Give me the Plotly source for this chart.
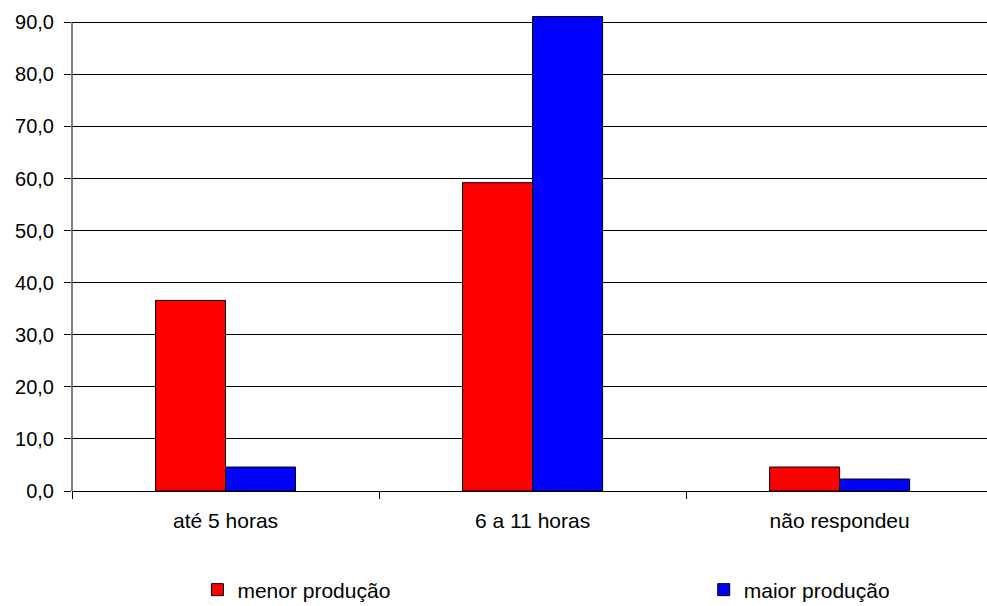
import plotly.graph_objects as go

categories = ["até 5 horas", "6 a 11 horas", "não respondeu"]
menor = [36.6, 59.2, 4.6]
maior = [4.6, 91.1, 2.3]
y_ticks = [0, 10, 20, 30, 40, 50, 60, 70, 80, 90]

fig = go.Figure()
fig.add_trace(go.Bar(name="menor produção", x=categories, y=menor,
                     marker=dict(color="#FF0000", line=dict(color="black", width=1)),
                     legend="legend"))
fig.add_trace(go.Bar(name="maior produção", x=categories, y=maior,
                     marker=dict(color="#0000FF", line=dict(color="black", width=1)),
                     legend="legend2"))

fam = "Liberation Sans, Arial, sans-serif"
lfont = dict(family=fam, size=21, color="black")
fig.update_layout(
    width=987, height=606,
    margin=dict(l=72, r=0, t=16, b=115, autoexpand=False),
    paper_bgcolor="white", plot_bgcolor="white",
    separators=",.",
    barmode="group", bargap=0.544, bargroupgap=0,
    font=dict(family=fam, size=20, color="black"),
    showlegend=True,
    legend=dict(orientation="h", xref="container", yref="container",
                x=0.2, y=0.0264, xanchor="left", yanchor="middle", font=lfont),
    legend2=dict(orientation="h", xref="container", yref="container",
                 x=0.713, y=0.0264, xanchor="left", yanchor="middle", font=lfont),
    xaxis=dict(range=[-0.5, 2.48], showline=True, linecolor="black", linewidth=1,
               ticks="outside", tickson="boundaries", ticklen=7, tickcolor="black",
               tickfont=dict(family=fam, size=21, color="black"),
               ticklabelstandoff=11, showgrid=False, zeroline=False, automargin=False),
    yaxis=dict(range=[0, 91.2], tickvals=y_ticks, tickformat=".1f",
               showline=False,
               ticks="outside", ticklen=7, tickcolor="black",
               showgrid=True, gridcolor="black", gridwidth=1, zeroline=False,
               ticklabelstandoff=6, automargin=False),
    shapes=[dict(type="line", xref="x domain", yref="y", x0=0, x1=0, y0=0, y1=90,
                 line=dict(color="black", width=1))],
)
fig.write_html("out.html", config={"displayModeBar": False},
               post_script="document.body.style.margin='0';")
